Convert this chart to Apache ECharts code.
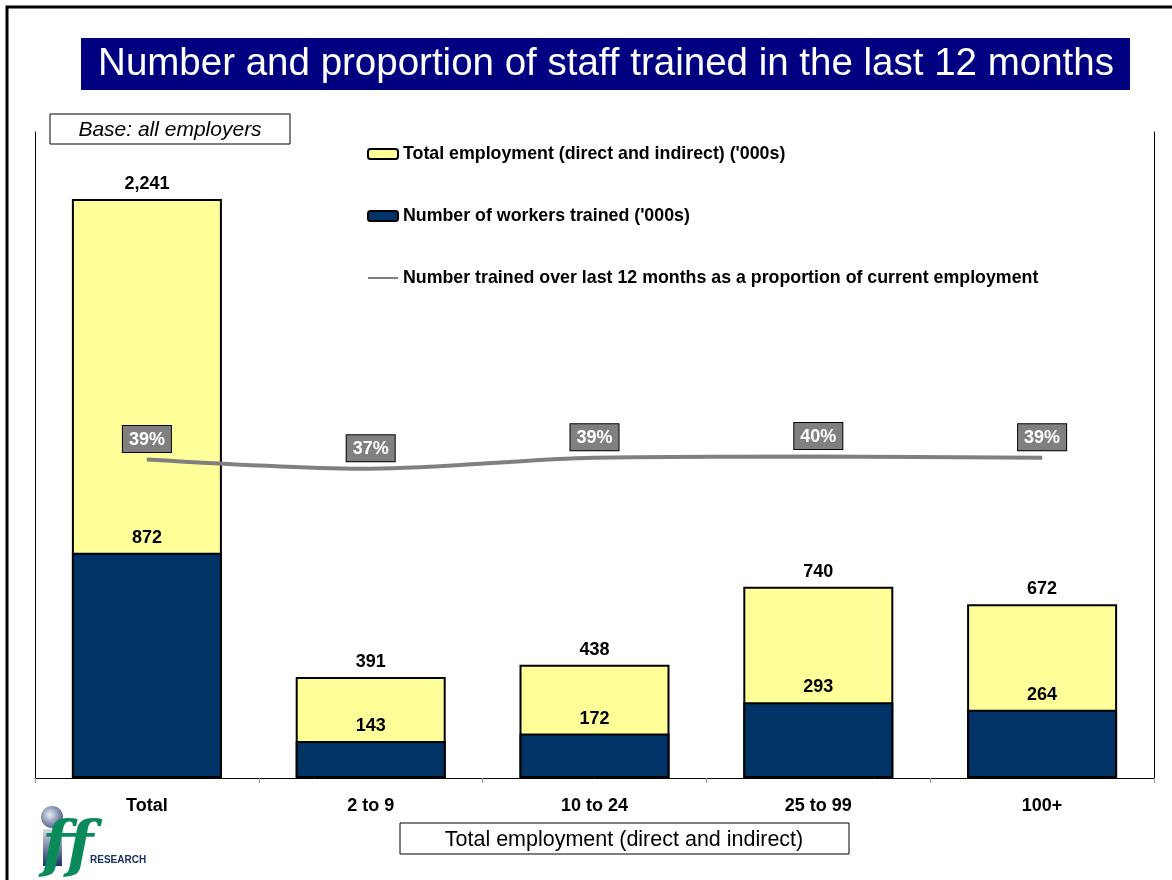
<!DOCTYPE html>
<html>
<head>
<meta charset="utf-8">
<script src="https://cdn.jsdelivr.net/npm/echarts@6/dist/echarts.min.js"></script>
<style>
  html, body { margin: 0; padding: 0; background: #fff; }
  #chart { width: 1172px; height: 880px; }
</style>
</head>
<body>
<div id="chart"></div>
<script>
// categories and values ('000s)
const categories = ['Total', '2 to 9', '10 to 24', '25 to 99', '100+']
const totalEmployment = [2241, 391, 438, 740, 672]
const workersTrained = [872, 143, 172, 293, 264]
// proportion trained, % (labels shown rounded)
const proportionTrained = [38.9, 36.6, 39.3, 39.6, 39.3]

const font = 'Arial, "Liberation Sans", sans-serif'
const lineName = 'Number trained over last 12 months as a proportion of current employment'

const myChart = echarts.init(document.getElementById('chart'))

const option = {
  backgroundColor: '#fff',
  textStyle: { fontFamily: font },
  animation: false,
  graphic: [
    // outer frame
    { type: 'rect', shape: { x: 7, y: 7, width: 1180, height: 900 }, style: { fill: 'none', stroke: '#000', lineWidth: 3 }, silent: true },
    // title bar
    { type: 'rect', shape: { x: 81, y: 38, width: 1049, height: 52 }, style: { fill: '#000080' } },
    { type: 'text', x: 606, y: 64, style: { text: 'Number and proportion of staff trained in the last 12 months', fill: '#fff', font: '38.5px ' + font, textAlign: 'center', textVerticalAlign: 'middle' } },
    // base box
    { type: 'rect', shape: { x: 50, y: 114, width: 240, height: 30 }, style: { fill: '#fff', stroke: '#000', lineWidth: 1 } },
    { type: 'text', x: 170, y: 130, style: { text: 'Base: all employers', fill: '#000', font: 'italic 21px ' + font, textAlign: 'center', textVerticalAlign: 'middle' } },
    // axis title box
    { type: 'rect', shape: { x: 400, y: 823, width: 449, height: 31 }, style: { fill: '#fff', stroke: '#000', lineWidth: 1 } },
    { type: 'text', x: 624, y: 840, style: { text: 'Total employment (direct and indirect)', fill: '#000', font: '21.5px ' + font, textAlign: 'center', textVerticalAlign: 'middle' } },
    // logo
    {
      type: 'circle', shape: { cx: 52, cy: 817, r: 11 },
      style: { fill: new echarts.graphic.RadialGradient(0.4, 0.4, 0.7, [{ offset: 0, color: '#e8ecf4' }, { offset: 1, color: '#3a4f7a' }]) }
    },
    {
      type: 'rect', shape: { x: 43, y: 829, width: 19, height: 37 },
      style: { fill: new echarts.graphic.LinearGradient(0, 0, 0, 1, [{ offset: 0, color: '#d8dde8' }, { offset: 1, color: '#1a2f66' }]) }
    },
    { type: 'text', x: 42, y: 818, style: { text: 'ff', fill: '#0a8a5a', font: 'italic bold 62px "DejaVu Serif", serif' } },
    { type: 'text', x: 90, y: 855, style: { text: 'RESEARCH', fill: '#1a2f66', font: 'bold 10px ' + font } }
  ],
  legend: {
    orient: 'vertical',
    left: 362,
    top: 140,
    itemWidth: 30,
    itemHeight: 10,
    itemGap: 44,
    textStyle: { fontSize: 17.8, fontWeight: 'bold', color: '#000', fontFamily: font },
    data: [
      'Total employment (direct and indirect) (\'000s)',
      'Number of workers trained (\'000s)',
      { name: lineName, itemStyle: { opacity: 0 } }
    ]
  },
  grid: {
    left: 35,
    right: 18,
    top: 132,
    bottom: 102
  },
  xAxis: {
    type: 'category',
    data: categories,
    axisLine: { lineStyle: { color: '#000', width: 1 } },
    axisTick: { show: true, length: 5, lineStyle: { color: '#999' } },
    axisLabel: { fontSize: 18, fontWeight: 'bold', color: '#000', margin: 19, fontFamily: font }
  },
  yAxis: [
    {
      type: 'value',
      min: 0,
      max: 2500,
      axisLine: { show: true, lineStyle: { color: '#000' } },
      axisTick: { show: false },
      axisLabel: { show: false },
      splitLine: { show: false }
    },
    {
      type: 'value',
      min: -40,
      max: 120,
      position: 'right',
      axisLine: { show: true, lineStyle: { color: '#000' } },
      axisTick: { show: false },
      axisLabel: { show: false },
      splitLine: { show: false }
    }
  ],
  series: [
    {
      name: 'Total employment (direct and indirect) (\'000s)',
      type: 'bar',
      barWidth: 150,
      barGap: '-100%',
      itemStyle: { color: '#ffff99', borderColor: '#000', borderWidth: 2 },
      label: {
        show: true,
        position: 'top',
        distance: 6,
        fontSize: 18,
        fontWeight: 'bold',
        color: '#000',
        formatter: p => p.value.toLocaleString('en-US')
      },
      data: totalEmployment
    },
    {
      name: 'Number of workers trained (\'000s)',
      type: 'bar',
      barWidth: 150,
      barGap: '-100%',
      itemStyle: { color: '#003366', borderColor: '#000', borderWidth: 2 },
      label: {
        show: true,
        position: 'top',
        distance: 6,
        fontSize: 18,
        fontWeight: 'bold',
        color: '#000'
      },
      data: workersTrained
    },
    {
      name: lineName,
      type: 'line',
      yAxisIndex: 1,
      smooth: 0.3,
      symbol: 'circle',
      symbolSize: 1,
      z: 5,
      lineStyle: { color: '#808080', width: 4 },
      itemStyle: { color: '#808080' },
      label: {
        show: true,
        position: 'top',
        distance: 7,
        fontSize: 18,
        fontWeight: 'bold',
        color: '#fff',
        backgroundColor: '#808080',
        borderColor: '#000',
        borderWidth: 1,
        padding: [5, 6, 3, 6],
        formatter: p => Math.round(p.value) + '%'
      },
      data: proportionTrained
    }
  ]
}

myChart.setOption(option)
</script>
</body>
</html>
